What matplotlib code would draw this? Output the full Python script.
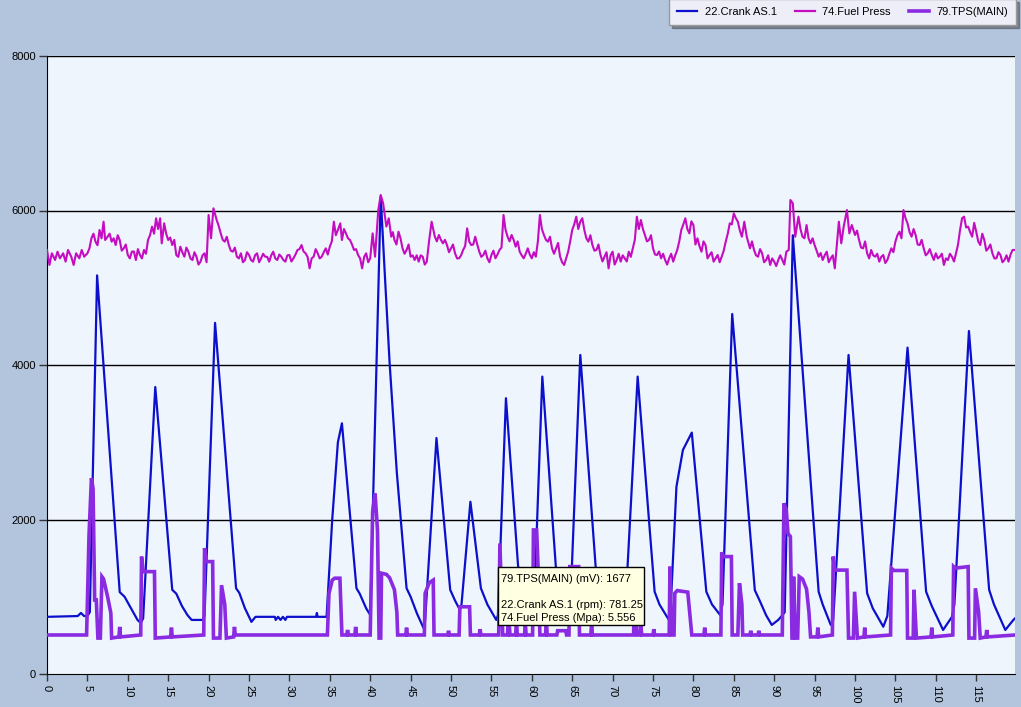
import matplotlib
matplotlib.use("Agg")
import matplotlib.pyplot as plt
from matplotlib.patches import Rectangle
from matplotlib.lines import Line2D

# ---------------- data ----------------
series_names = ["22.Crank AS.1", "74.Fuel Press", "79.TPS(MAIN)"]

crank_x = [0, 3.8, 4.2, 4.6, 5.0, 5.3, 6.2, 9.0, 9.6, 10.4, 11.2, 11.6, 11.9, 13.4, 15.5, 16.0,
           16.7, 17.4, 17.9, 19.3, 19.5, 20.8, 23.4, 23.8, 24.5, 25.3, 25.8, 28.2, 28.3, 28.6,
           28.9, 29.2, 29.5, 29.7, 33.3, 33.4, 33.5, 34.6, 35.3, 36.0, 36.5, 38.3, 38.7, 39.5,
           40.0, 41.3, 41.8, 42.4, 43.3, 44.5, 45.0, 45.8, 46.6, 46.8, 48.2, 49.9, 50.5, 51.1,
           51.3, 52.4, 53.7, 54.5, 55.6, 55.8, 56.8, 58.3, 59.2, 60.0, 60.2, 61.3, 63.0, 63.6,
           64.4, 64.7, 66.0, 67.9, 68.8, 69.8, 71.2, 71.5, 73.1, 75.2, 75.8, 77.1, 77.9, 78.7,
           79.8, 81.6, 82.3, 83.3, 83.6, 84.8, 87.6, 88.2, 89.0, 89.7, 90.5, 91.0, 91.3, 92.3,
           95.5, 96.0, 97.0, 97.3, 99.2, 101.5, 102.2, 103.5, 104.0, 106.5, 108.8, 109.5, 110.9,
           112.0, 112.3, 114.1, 116.6, 117.2, 118.6, 119.6, 119.8]
crank_y = [740, 750, 790, 750, 750, 800, 5160, 1060, 1000, 850, 700, 660, 720, 3715, 1090, 1040,
           880, 760, 700, 700, 760, 4545, 1110, 1050, 850, 675, 740, 740, 700, 740,
           700, 740, 700, 740, 740, 790, 740, 740, 2000, 3000, 3245, 1110, 1040, 850,
           765, 6180, 5190, 4030, 2600, 1110, 1000, 780, 595, 700, 3055, 1090, 950, 830,
           900, 2230, 1110, 900, 700, 760, 3570, 1400, 1000, 680, 650, 3850, 1350, 1000,
           660, 700, 4130, 1390, 1050, 750, 640, 700, 3850, 1065, 900, 677, 2425, 2900,
           3125, 1065, 900, 765, 900, 4660, 1085, 950, 760, 635, 700, 760, 800, 5680,
           1065, 900, 635, 700, 4130, 1045, 850, 612, 750, 4225, 1065, 880, 570,
           740, 900, 4440, 1090, 900, 570, 700, 720]

# fuel pressure, main readings
fuel_x = [0, 0.3, 0.6, 1.0, 1.3, 1.6, 2.0, 2.3, 2.6, 3.0, 3.3, 3.6, 4.0, 4.3, 4.6, 5.0, 5.5, 6.0,
          6.5, 7.0, 7.2, 7.5, 8.0, 8.5, 9.0, 9.5, 10.0, 10.5, 11.0, 11.5, 12.0, 12.5, 13.0, 13.5,
          14.0, 14.2, 14.5, 15.0, 15.5, 16.0, 16.5, 17.0, 17.5, 18.0, 18.5, 19.0, 19.5, 20.0,
          20.3, 20.6, 21.0, 21.5, 22.0, 22.5, 23.0, 23.5, 24.0, 24.5, 25.0, 25.5, 26.0, 26.5,
          27.0, 27.5, 28.0, 28.5, 29.0, 29.5, 30.0, 30.5, 31.0, 31.5, 32.0, 32.5, 33.0, 33.5,
          34.0, 34.5, 35.0, 35.5, 36.0, 36.3, 36.5, 37.0, 37.5, 38.0, 38.5, 39.0, 39.5, 40.0,
          40.3, 40.6, 41.0, 41.3, 41.6, 42.0, 42.3, 42.6, 43.0, 43.5, 44.0, 44.5, 45.0, 45.5,
          46.0, 46.5, 47.0, 47.3, 47.6, 48.0, 48.5, 49.0, 49.5, 50.0, 50.5, 51.0, 51.5, 52.0,
          52.5, 53.0, 53.5, 54.0, 54.5, 55.0, 55.5, 56.0, 56.5, 57.0, 57.5, 58.0, 58.5, 59.0,
          59.5, 60.0, 60.5, 61.0, 61.5, 62.0, 62.5, 63.0, 63.5, 64.0, 64.5, 65.0, 65.5, 66.0,
          66.5, 67.0, 67.5, 68.0, 68.5, 69.0, 69.5, 70.0, 70.5, 71.0, 71.5, 72.0, 72.5, 73.0,
          73.5, 74.0, 74.5, 75.0, 75.5, 76.0, 76.5, 77.0, 77.5, 78.0, 78.5, 79.0, 79.5, 80.0,
          80.5, 81.0, 81.5, 82.0, 82.5, 83.0, 83.5, 84.0, 84.5, 85.0, 85.5, 86.0, 86.3, 86.6,
          87.0, 87.5, 88.0, 88.5, 89.0, 89.5, 90.0, 90.5, 91.0, 91.5, 91.8, 92.0, 92.3, 92.6,
          93.0, 93.5, 94.0, 94.5, 95.0, 95.5, 96.0, 96.5, 97.0, 97.5, 98.0, 98.3, 98.6, 99.0,
          99.3, 99.6, 100.0, 100.5, 101.0, 101.5, 102.0, 102.5, 103.0, 103.5, 104.0, 104.5,
          105.0, 105.5, 106.0, 106.5, 107.0, 107.5, 108.0, 108.5, 109.0, 109.5, 110.0, 110.5,
          111.0, 111.5, 112.0, 112.5, 113.0, 113.5, 114.0, 114.5, 115.0, 115.5, 116.0, 116.5,
          117.0, 117.5, 118.0, 118.5, 119.0, 119.5, 119.8]
fuel_y = [5489, 5295, 5446, 5359, 5467, 5381, 5446, 5338, 5489, 5402, 5295, 5446, 5381, 5489, 5402,
          5446, 5640, 5597, 5748, 5855, 5618, 5661, 5597, 5553, 5618, 5510, 5424, 5467, 5359, 5424,
          5489, 5618, 5791, 5899, 5899, 5575, 5834, 5618, 5553, 5424, 5532, 5402, 5467, 5359, 5402,
          5338, 5446, 5942, 5640, 6028, 5877, 5704, 5597, 5553, 5467, 5402, 5446, 5359, 5424, 5338,
          5446, 5381, 5402, 5338, 5467, 5359, 5402, 5338, 5424, 5381, 5489, 5553, 5446, 5251, 5402,
          5446, 5402, 5510, 5532, 5855, 5748, 5834, 5618, 5704, 5618, 5489, 5424, 5251, 5446, 5381,
          5704, 5402, 6006, 6201, 6093, 5791, 5899, 5661, 5618, 5726, 5510, 5489, 5402, 5359, 5338,
          5402, 5338, 5618, 5855, 5661, 5683, 5575, 5553, 5510, 5446, 5381, 5489, 5769, 5553, 5661,
          5467, 5424, 5381, 5424, 5381, 5489, 5942, 5661, 5683, 5532, 5467, 5381, 5510, 5381, 5402,
          5942, 5683, 5597, 5510, 5510, 5402, 5295, 5467, 5748, 5920, 5855, 5748, 5597, 5553, 5489,
          5424, 5402, 5251, 5467, 5359, 5338, 5381, 5467, 5510, 5920, 5877, 5683, 5618, 5510, 5424,
          5381, 5359, 5381, 5338, 5489, 5748, 5899, 5704, 5812, 5640, 5467, 5553, 5424, 5338, 5424,
          5402, 5597, 5834, 5963, 5855, 5661, 5855, 5661, 5510, 5489, 5402, 5446, 5359, 5295, 5338,
          5359, 5359, 5467, 5489, 6136, 6093, 5661, 5920, 5661, 5812, 5575, 5553, 5402, 5359, 5467,
          5381, 5251, 5855, 5575, 5791, 6006, 5704, 5812, 5683, 5618, 5510, 5446, 5489, 5402, 5338,
          5424, 5359, 5510, 5597, 5726, 6006, 5834, 5661, 5683, 5553, 5510, 5446, 5424, 5446, 5402,
          5295, 5359, 5402, 5446, 5748, 5920, 5791, 5661, 5726, 5553, 5618, 5510, 5446, 5381, 5424,
          5359, 5338, 5489, 5489]

# fuel pressure, in-between jitter readings
fuel_mid_x = [5.25, 5.75, 6.25, 6.75, 7.75, 8.25, 8.75, 9.25, 9.75, 10.25, 10.75, 11.25, 11.75,
              12.25, 12.75, 13.25, 13.75, 14.75, 15.25, 15.75, 16.25, 16.75, 17.25, 17.75, 18.25,
              18.75, 19.25, 19.75, 21.25, 21.75, 22.25, 22.75, 23.25, 23.75, 24.25, 24.75, 25.25,
              25.75, 26.25, 26.75, 27.25, 27.75, 28.25, 28.75, 29.25, 29.75, 30.25, 30.75, 31.25,
              31.75, 32.25, 32.75, 33.25, 33.75, 34.25, 34.75, 35.25, 35.75, 36.75, 37.25, 37.75,
              38.25, 38.75, 39.25, 39.75, 42.8, 43.25, 43.75, 44.25, 44.75, 45.25, 45.75, 46.25,
              46.75, 48.25, 48.75, 49.25, 49.75, 50.25, 50.75, 51.25, 51.75, 52.25, 52.75, 53.25,
              53.75, 54.25, 54.75, 55.25, 55.75, 56.25, 56.75, 57.25, 57.75, 58.25, 58.75, 59.25,
              59.75, 60.25, 60.75, 61.25, 61.75, 62.25, 62.75, 63.25, 63.75, 64.25, 64.75, 65.25,
              65.75, 66.25, 66.75, 67.25, 67.75, 68.25, 68.75, 69.25, 69.75, 70.25, 70.75, 71.25,
              71.75, 72.25, 72.75, 73.25, 73.75, 74.25, 74.75, 75.25, 75.75, 76.25, 76.75, 77.25,
              77.75, 78.25, 78.75, 79.25, 79.75, 80.25, 80.75, 81.25, 81.75, 82.25, 82.75, 83.25,
              83.75, 84.25, 84.75, 85.25, 85.75, 87.25, 87.75, 88.25, 88.75, 89.25, 89.75, 90.25,
              90.75, 91.25, 93.25, 93.75, 94.25, 94.75, 95.25, 95.75, 96.25, 96.75, 97.25, 100.25,
              100.75, 101.25, 101.75, 102.25, 102.75, 103.25, 103.75, 104.25, 104.75, 105.25,
              105.75, 106.25, 106.75, 107.25, 107.75, 108.25, 108.75, 109.25, 109.75, 110.25,
              110.75, 111.25, 111.75, 112.25, 112.75, 113.25, 113.75, 114.25, 114.75, 115.25,
              115.75, 116.25, 116.75, 117.25, 117.75, 118.25, 118.75, 119.25]
fuel_mid_y = [5510, 5700, 5550, 5640, 5700, 5640, 5680, 5480, 5560, 5380, 5470, 5500, 5380,
              5440, 5680, 5700, 5760, 5700, 5650, 5620, 5400, 5460, 5520, 5380, 5460,
              5300, 5420, 5330, 5800, 5620, 5660, 5480, 5520, 5380, 5330, 5460, 5360,
              5420, 5330, 5440, 5400, 5420, 5380, 5430, 5360, 5420, 5340, 5430, 5500,
              5470, 5400, 5380, 5500, 5380, 5460, 5430, 5600, 5680, 5760, 5640, 5560,
              5500, 5380, 5400, 5330, 5720, 5560, 5640, 5440, 5560, 5420, 5420, 5420,
              5300, 5600, 5620, 5620, 5460, 5560, 5380, 5420, 5540, 5600, 5560, 5560,
              5400, 5480, 5330, 5480, 5430, 5520, 5750, 5600, 5620, 5600, 5420, 5440,
              5430, 5460, 5600, 5760, 5620, 5660, 5440, 5580, 5330, 5380, 5600, 5820,
              5760, 5900, 5640, 5680, 5480, 5560, 5340, 5460, 5420, 5300, 5440, 5420,
              5340, 5400, 5620, 5760, 5760, 5600, 5680, 5430, 5470, 5440, 5300, 5440,
              5420, 5600, 5820, 5760, 5860, 5560, 5540, 5600, 5380, 5460, 5380, 5330,
              5480, 5700, 5820, 5900, 5740, 5600, 5420, 5500, 5330, 5420, 5380, 5280,
              5420, 5300, 5760, 5640, 5640, 5640, 5480, 5450, 5420, 5330, 5420, 5740,
              5520, 5600, 5380, 5420, 5440, 5400, 5320, 5440, 5460, 5680,
              5640, 5900, 5720, 5760, 5560, 5620, 5420, 5500, 5360, 5380,
              5440, 5380, 5440, 5340, 5560, 5900, 5780, 5720, 5840, 5600,
              5700, 5480, 5560, 5380, 5460, 5330, 5420, 5430]

tps_x = [0, 4.9, 5.2, 5.5, 5.7, 5.9, 6.1, 6.3, 6.6, 6.8, 7.0, 7.5, 7.9, 8.0, 8.9, 9.0, 9.1,
         11.6, 11.7, 11.9, 13.3, 13.4, 15.3, 15.4, 15.5, 19.4, 19.5, 19.7, 20.5, 20.6, 21.4, 21.6,
         22.0, 22.2, 23.1, 23.2, 23.3, 34.7, 34.9, 35.3, 35.6, 36.25, 36.5, 37.1, 37.2, 37.3,
         38.1, 38.2, 38.3, 40.0, 40.3, 40.6, 40.9, 41.1, 41.3, 41.4, 42.0, 42.4, 43.0, 43.3, 43.4,
         44.4, 44.5, 44.6, 46.7, 46.8, 47.3, 47.8, 47.9, 49.6, 49.7, 49.8, 51.0, 51.1, 52.3, 52.4,
         53.5, 53.6, 53.7, 55.9, 56.05, 56.4, 57.0, 57.1, 57.3, 58.0, 58.1, 58.2, 59.1, 59.2, 59.3,
         60.1, 60.2, 60.6, 60.8, 61.0, 61.7, 61.8, 61.9, 63.1, 63.2, 64.2, 64.3, 64.6, 64.7, 65.8,
         65.9, 67.3, 67.4, 67.5, 72.6, 72.7, 72.9, 73.0, 73.4, 73.5, 73.6, 75.0, 75.1, 75.2, 77.0,
         77.1, 77.3, 77.6, 77.7, 78.0, 79.3, 79.8, 81.3, 81.4, 81.5, 83.4, 83.5, 83.7, 84.7, 84.8,
         85.5, 85.7, 86.0, 86.1, 87.0, 87.1, 87.2, 88.0, 88.1, 88.2, 91.0, 91.2, 91.5, 91.7, 92.0,
         92.2, 92.3, 92.4, 92.6, 92.9, 93.1, 93.5, 94.0, 94.3, 94.5, 95.3, 95.4, 95.5, 97.2, 97.3,
         97.5, 99.0, 99.2, 99.8, 99.95, 100.3, 101.1, 101.2, 101.3, 104.4, 104.5, 104.8, 106.4,
         106.5, 107.2, 107.3, 107.6, 109.4, 109.5, 109.6, 112.1, 112.2, 112.4, 114.0, 114.1, 114.8,
         114.9, 115.3, 115.5, 116.2, 116.3, 116.4, 119.8]
tps_y = [505, 505, 1800, 2535, 2400, 960, 960, 465, 465, 1260, 1230, 1000, 790, 465, 480, 610, 480,
         505, 1520, 1325, 1325, 465, 480, 600, 480, 505, 1630, 1455, 1455, 465, 465, 1150,
         900, 465, 480, 610, 505, 505, 1045, 1215, 1240, 1240, 505, 505, 570, 505,
         505, 610, 505, 505, 2100, 2340, 1865, 465, 465, 1305, 1290, 1245, 1090, 800, 505,
         505, 600, 505, 505, 1045, 1180, 1215, 505, 505, 560, 505, 505, 870, 870, 505,
         505, 580, 505, 505, 1690, 505, 505, 800, 505, 505, 700, 505, 505, 650, 505,
         505, 1865, 1865, 1300, 505, 505, 700, 505, 505, 560, 560, 505, 505, 1390, 1390,
         505, 505, 650, 505, 505, 1345, 1345, 505, 505, 620, 505, 505, 580, 505, 505,
         1390, 505, 505, 1045, 1080, 1060, 505, 505, 600, 505, 505, 1575, 1520, 1520, 505,
         505, 1175, 900, 505, 505, 560, 505, 505, 560, 505, 505, 2210, 2125, 1820, 1780,
         465, 465, 1260, 465, 465, 1260, 1230, 1100, 800, 480, 480, 600, 480, 505, 1520,
         1345, 1345, 465, 465, 1065, 465, 480, 600, 480, 505, 1370, 1340, 1340,
         465, 465, 1090, 465, 480, 600, 480, 505, 1390, 1370, 1390, 465, 465,
         1110, 800, 465, 480, 570, 480, 505]

y_ticks = [0, 2000, 4000, 6000, 8000]
x_ticks = list(range(0, 120, 5))

tooltip_lines = ["79.TPS(MAIN) (mV): 1677", "", "22.Crank AS.1 (rpm): 781.25",
                 "74.Fuel Press (Mpa): 5.556"]

# ---------------- styling ----------------
W, H = 1021, 707
outer_bg = "#B2C5DD"
plot_bg = "#EEF5FC"
c_crank = "#0C10CC"
c_fuel = "#C40CC0"
c_tps = "#8A2BE2"

plt.rcParams['font.family'] = ['Liberation Sans', 'DejaVu Sans']

fig = plt.figure(figsize=(W / 100, H / 100), dpi=100, facecolor=outer_bg)
ax = fig.add_axes([47 / W, (H - 674) / H, (1015 - 47) / W, (674 - 56) / H])
ax.set_facecolor(plot_bg)

fuel_pts = sorted(zip(fuel_x + fuel_mid_x, fuel_y + fuel_mid_y))
fx = [p[0] for p in fuel_pts]
fy = [p[1] for p in fuel_pts]

ax.plot(crank_x, crank_y, color=c_crank, lw=1.6, zorder=3)
ax.plot(fx, fy, color=c_fuel, lw=1.5, zorder=3)
ax.plot(tps_x, tps_y, color=c_tps, lw=2.6, zorder=4, solid_joinstyle='miter')

ax.set_xlim(0, 119.8)
ax.set_ylim(0, 8000)
ax.set_yticks(y_ticks)
ax.set_yticklabels([str(v) for v in y_ticks], fontsize=8)
ax.set_xticks(x_ticks)
ax.set_xticklabels([str(v) for v in x_ticks], fontsize=8, rotation=-90)
ax.tick_params(axis='y', length=6, width=1, pad=2, color='#333333')
ax.tick_params(axis='x', length=5, width=1, pad=3, color='#333333')
for v in y_ticks[1:]:
    ax.axhline(v, color='black', lw=1, zorder=2)
ax.spines['right'].set_visible(False)
ax.spines['top'].set_visible(False)
ax.spines['left'].set_color('black')
ax.spines['bottom'].set_color('black')

# legend
handles = [Line2D([], [], color=c_crank, lw=1.6),
           Line2D([], [], color=c_fuel, lw=1.6),
           Line2D([], [], color=c_tps, lw=2.6)]
leg = fig.legend(handles, series_names, loc='lower right', ncol=3, fontsize=8,
                 bbox_to_anchor=(1016 / W, (H - 25) / H), frameon=True, fancybox=False,
                 shadow=True, handlelength=1.8, columnspacing=1.6, handletextpad=0.7,
                 borderpad=0.7, borderaxespad=0)
leg.get_frame().set_facecolor('#EEEEF8')
leg.get_frame().set_edgecolor('#999999')

# tooltip
x0, y0, x1, y1 = 498, 567, 644, 625
fig.patches.append(Rectangle((x0 / W, (H - y1) / H), (x1 - x0) / W, (y1 - y0) / H,
                             transform=fig.transFigure, facecolor='#FFFFE1',
                             edgecolor='black', lw=1, zorder=10))
line_px = [579, 592, 605, 618]
for t, yp in zip(tooltip_lines, line_px):
    if t:
        fig.text((x0 + 3) / W, (H - yp) / H, t, fontsize=8, va='center', ha='left',
                 color='black', zorder=11)

fig.savefig("out.png", dpi=100, facecolor=outer_bg)
